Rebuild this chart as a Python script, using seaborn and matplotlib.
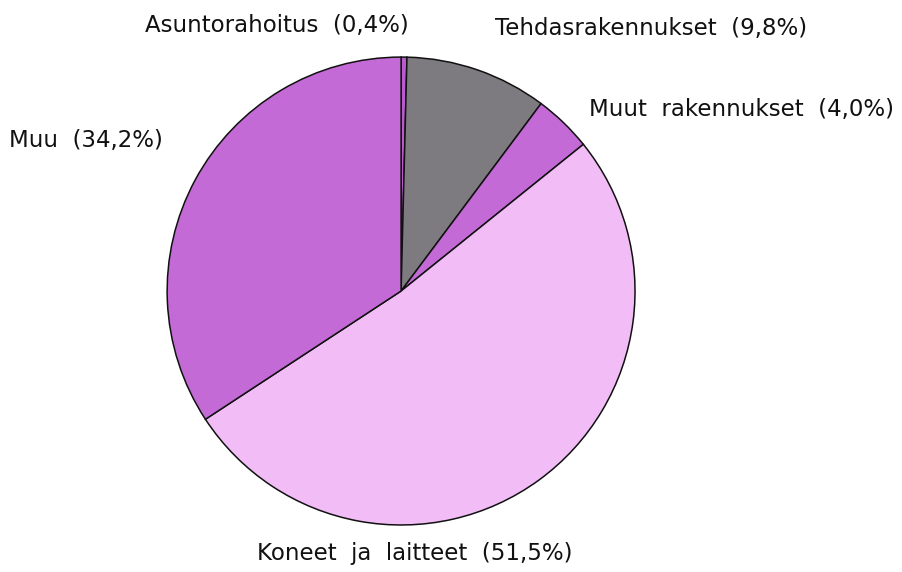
import matplotlib
matplotlib.use("Agg")
import matplotlib.pyplot as plt
import seaborn as sns

sns.set_theme(style="white")
plt.rcParams['font.family'] = ['DejaVu Sans']

categories = ["Asuntorahoitus", "Tehdasrakennukset", "Muut rakennukset",
              "Koneet ja laitteet", "Muu"]
values = [0.4, 9.8, 4.0, 51.5, 34.2]
value_labels = ["0,4%", "9,8%", "4,0%", "51,5%", "34,2%"]
colors = ["#b85ccc", "#7e7b80", "#c46ad6", "#f2bdf7", "#c46ad6"]

fig = plt.figure(figsize=(9.03, 5.72), dpi=100)
ax = fig.add_axes([0, 0, 1, 1])
ax.pie(values, colors=colors, startangle=90, counterclock=False, radius=1.0,
       wedgeprops=dict(edgecolor="#111111", linewidth=1.1))
ax.set_xlim(-1.714, 2.145)
ax.set_ylim(-1.201, 1.244)
ax.set_aspect("equal")
ax.axis("off")

label_pos = [(-0.53, 1.137), (1.068, 1.124), (1.457, 0.774), (0.06, -1.12), (-1.346, 0.645)]
for (x, y), c, v in zip(label_pos, categories, value_labels):
    txt = f"{c} ({v})".replace(" ", "  ")
    ax.text(x, y, txt, ha="center", va="center", fontsize=16.5, color="#111111")

fig.savefig("out.png", dpi=100)
